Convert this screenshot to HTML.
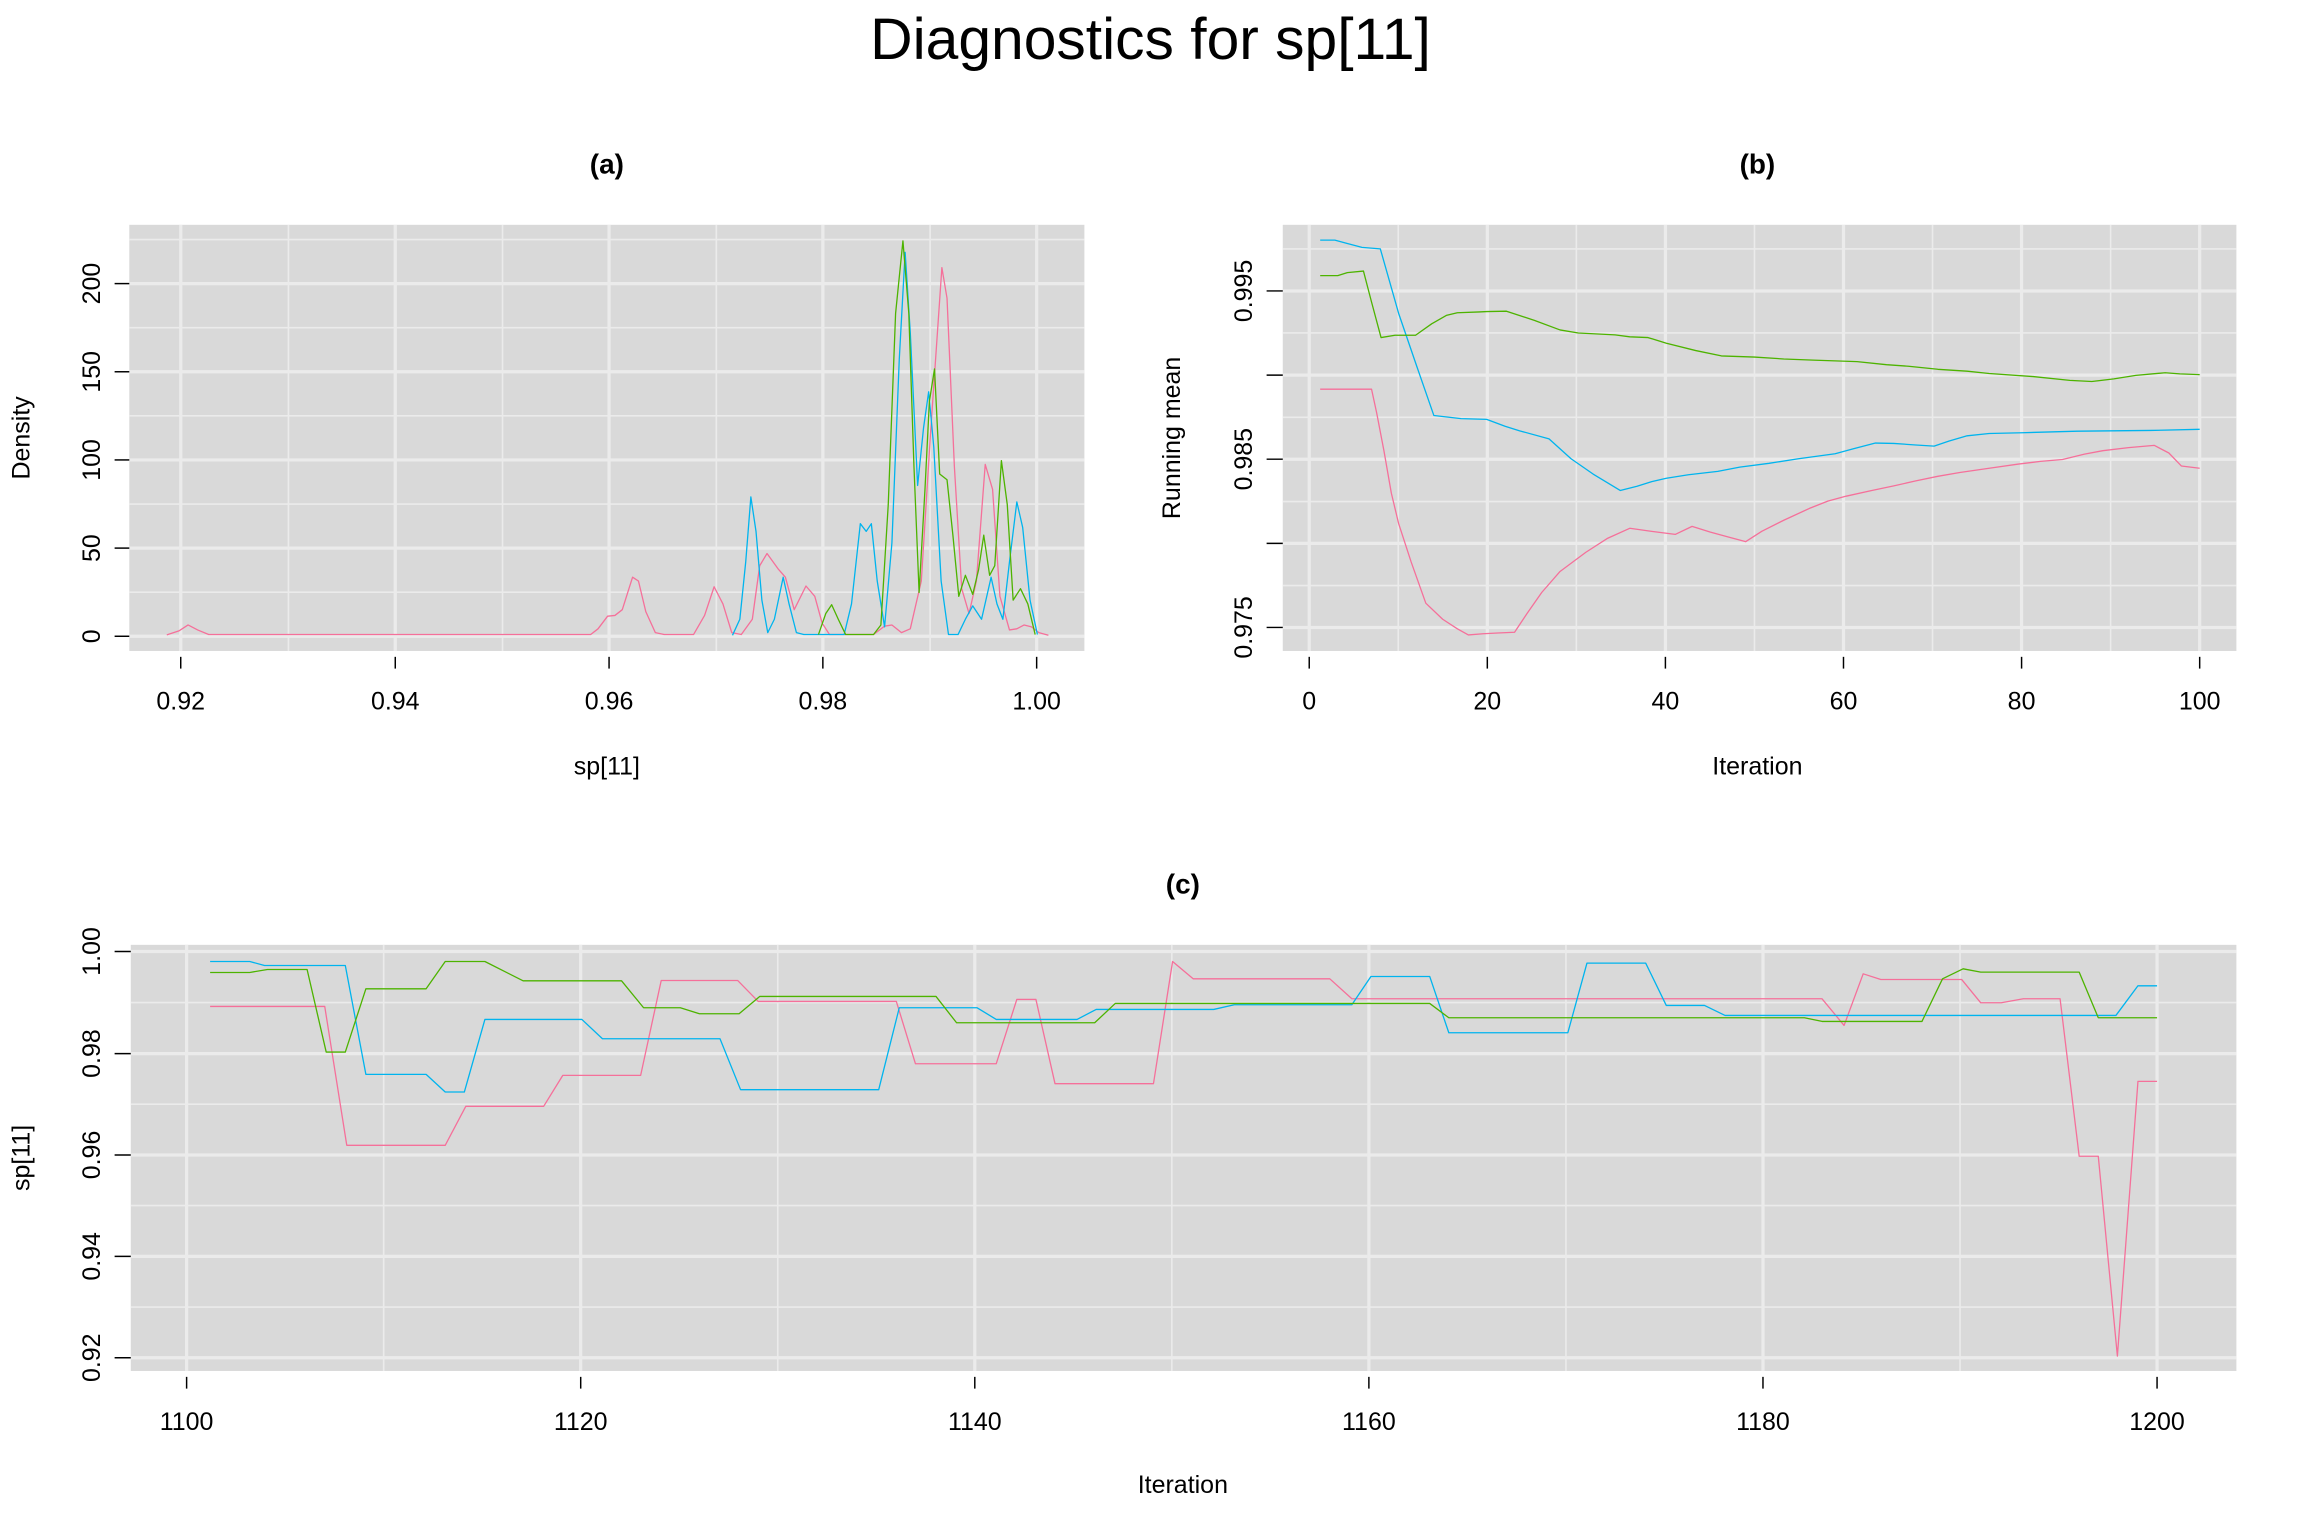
<!DOCTYPE html>
<html><head><meta charset="utf-8"><style>
html,body{margin:0;padding:0;background:#fff;}
svg{display:block;font-family:"Liberation Sans",Arial,sans-serif;}
.bg{fill:#d9d9d9;}
.gM{stroke:#ebebeb;stroke-width:2.2;}
.gm{stroke:#ebebeb;stroke-width:1.1;}
.tk{stroke:#000;stroke-width:1;}
.ln{fill:none;stroke-width:1.3;vector-effect:non-scaling-stroke;stroke-linejoin:round;}
.p{stroke:#F5709A;}.b{stroke:#00B4EE;}.g{stroke:#4DB300;}
.tl{font-size:17px;fill:#000;}
.tt{font-size:19px;font-weight:bold;fill:#000;}
</style></head><body>
<svg width="2304" height="1536" viewBox="0 0 1568 1045.3" preserveAspectRatio="none" xmlns="http://www.w3.org/2000/svg">
<text x="783" y="40" text-anchor="middle" font-size="40">Diagnostics for sp[11]</text>

<!-- Panel a -->
<rect class="bg" x="88" y="153" width="650" height="290"/>
<g>
<line class="gm" x1="88" x2="738" y1="403" y2="403"/><line class="gm" x1="88" x2="738" y1="343" y2="343"/><line class="gm" x1="88" x2="738" y1="283" y2="283"/><line class="gm" x1="88" x2="738" y1="223" y2="223"/><line class="gm" x1="88" x2="738" y1="163" y2="163"/>
<line class="gM" x1="88" x2="738" y1="433" y2="433"/><line class="gM" x1="88" x2="738" y1="373" y2="373"/><line class="gM" x1="88" x2="738" y1="313" y2="313"/><line class="gM" x1="88" x2="738" y1="253" y2="253"/><line class="gM" x1="88" x2="738" y1="193" y2="193"/>
<line class="gm" x1="196.3" x2="196.3" y1="153" y2="443"/><line class="gm" x1="342" x2="342" y1="153" y2="443"/><line class="gm" x1="487.5" x2="487.5" y1="153" y2="443"/><line class="gm" x1="633" x2="633" y1="153" y2="443"/>
<line class="gM" x1="123" x2="123" y1="153" y2="443"/><line class="gM" x1="269" x2="269" y1="153" y2="443"/><line class="gM" x1="414.5" x2="414.5" y1="153" y2="443"/><line class="gM" x1="560" x2="560" y1="153" y2="443"/><line class="gM" x1="705.5" x2="705.5" y1="153" y2="443"/>
</g>
<g transform="translate(-0.5,135.31) scale(0.5,0.2601)">
<polyline class="ln p" points="228,1141 245,1130 257,1115 270,1128 285,1140 805,1140 815,1125 828,1092 838,1090 848,1075 862,990 870,1000 880,1080 893,1135 905,1140 945,1140 960,1090 973,1015 985,1060 997,1135 1010,1140 1025,1100 1035,960 1045,928 1060,968 1070,990 1082,1075 1098,1013 1110,1040 1120,1110 1130,1140 1190,1140 1205,1118 1215,1115 1228,1135 1240,1125 1255,1000 1268,600 1283,180 1290,260 1300,700 1310,1020 1320,1085 1330,1000 1342,695 1352,760 1362,1040 1375,1128 1385,1125 1395,1115 1405,1120 1415,1135 1428,1142"/>
<polyline class="ln b" points="998,1142 1008,1100 1016,950 1023,780 1030,870 1038,1050 1046,1135 1055,1100 1067,990 1075,1060 1085,1135 1095,1140 1150,1140 1160,1060 1172,850 1180,870 1187,850 1195,1000 1205,1120 1215,900 1225,420 1233,140 1240,350 1250,750 1258,600 1265,505 1272,650 1282,1000 1292,1140 1305,1140 1315,1100 1325,1065 1337,1100 1350,990 1358,1060 1366,1100 1375,950 1385,793 1393,860 1403,1050 1413,1140"/>
<polyline class="ln g" points="1115,1140 1125,1085 1133,1062 1142,1100 1152,1140 1190,1140 1200,1115 1210,800 1220,300 1230,110 1238,300 1245,700 1252,1030 1260,760 1266,530 1273,445 1280,720 1290,735 1298,880 1306,1040 1315,985 1325,1035 1333,970 1340,880 1348,985 1355,960 1364,685 1372,800 1380,1050 1390,1020 1400,1060 1410,1140"/>
</g>
<g class="tk">
<line x1="123" x2="123" y1="447" y2="455"/><line x1="269" x2="269" y1="447" y2="455"/><line x1="414.5" x2="414.5" y1="447" y2="455"/><line x1="560" x2="560" y1="447" y2="455"/><line x1="705.5" x2="705.5" y1="447" y2="455"/>
<line x1="78" x2="88" y1="433" y2="433"/><line x1="78" x2="88" y1="373" y2="373"/><line x1="78" x2="88" y1="313" y2="313"/><line x1="78" x2="88" y1="253" y2="253"/><line x1="78" x2="88" y1="193" y2="193"/>
</g>
<g class="tl" text-anchor="middle">
<text x="123" y="483">0.92</text><text x="269" y="483">0.94</text><text x="414.5" y="483">0.96</text><text x="560" y="483">0.98</text><text x="705.5" y="483">1.00</text>
<text transform="translate(68,433) rotate(-90)">0</text><text transform="translate(68,373) rotate(-90)">50</text><text transform="translate(68,313) rotate(-90)">100</text><text transform="translate(68,253) rotate(-90)">150</text><text transform="translate(68,193) rotate(-90)">200</text>
<text x="413" y="527">sp[11]</text>
<text transform="translate(20,298) rotate(-90)">Density</text>
</g>
<text class="tt" x="413" y="118" text-anchor="middle">(a)</text>

<!-- Panel b -->
<rect class="bg" x="873" y="153" width="649" height="290"/>
<g>
<line class="gm" x1="873" x2="1522" y1="169.4" y2="169.4"/><line class="gm" x1="873" x2="1522" y1="226.6" y2="226.6"/><line class="gm" x1="873" x2="1522" y1="284" y2="284"/><line class="gm" x1="873" x2="1522" y1="341.3" y2="341.3"/><line class="gm" x1="873" x2="1522" y1="398.5" y2="398.5"/>
<line class="gM" x1="873" x2="1522" y1="198" y2="198"/><line class="gM" x1="873" x2="1522" y1="255.3" y2="255.3"/><line class="gM" x1="873" x2="1522" y1="312.5" y2="312.5"/><line class="gM" x1="873" x2="1522" y1="369.8" y2="369.8"/><line class="gM" x1="873" x2="1522" y1="427" y2="427"/>
<line class="gm" x1="951.6" x2="951.6" y1="153" y2="443"/><line class="gm" x1="1072.8" x2="1072.8" y1="153" y2="443"/><line class="gm" x1="1194" x2="1194" y1="153" y2="443"/><line class="gm" x1="1315.2" x2="1315.2" y1="153" y2="443"/><line class="gm" x1="1436.4" x2="1436.4" y1="153" y2="443"/>
<line class="gM" x1="891" x2="891" y1="153" y2="443"/><line class="gM" x1="1012.2" x2="1012.2" y1="153" y2="443"/><line class="gM" x1="1133.4" x2="1133.4" y1="153" y2="443"/><line class="gM" x1="1254.6" x2="1254.6" y1="153" y2="443"/><line class="gM" x1="1375.8" x2="1375.8" y1="153" y2="443"/><line class="gM" x1="1497" x2="1497" y1="153" y2="443"/>
</g>
<g transform="translate(784.64,135.31) scale(0.4992,0.2601)">
<polyline class="ln b" points="228,108 248,108 265,117 285,127 310,131 335,300 360,440 383,567 420,575 455,577 480,595 500,607 540,628 570,680 600,720 637,763 660,752 680,740 700,731 730,722 770,713 800,702 840,692 880,680 930,667 955,654 985,639 1010,640 1040,644 1065,647 1085,634 1110,620 1140,614 1185,612 1260,608 1360,606 1427,603"/>
<polyline class="ln g" points="228,201 252,201 265,193 287,189 298,270 311,363 330,357 358,357 380,327 400,305 415,298 445,296 455,295 482,294 520,318 555,343 580,351 630,356 650,361 675,363 700,378 740,397 775,411 820,414 860,419 900,422 930,424 960,426 1000,434 1030,438 1070,446 1110,451 1140,457 1200,465 1250,475 1280,478 1310,471 1340,462 1380,455 1400,458 1427,460"/>
<polyline class="ln p" points="228,498 298,498 305,560 315,660 325,770 335,850 352,950 372,1058 395,1100 415,1125 430,1141 450,1138 470,1136 493,1134 510,1085 530,1030 555,975 590,925 620,888 650,862 680,870 712,878 735,857 760,872 785,885 808,897 830,870 860,841 895,810 920,791 945,778 980,763 1010,751 1040,738 1070,726 1100,716 1140,705 1180,694 1210,687 1240,682 1270,668 1295,659 1330,651 1365,645 1385,665 1402,699 1427,705"/>
</g>
<g class="tk">
<line x1="891" x2="891" y1="447" y2="455"/><line x1="1012.2" x2="1012.2" y1="447" y2="455"/><line x1="1133.4" x2="1133.4" y1="447" y2="455"/><line x1="1254.6" x2="1254.6" y1="447" y2="455"/><line x1="1375.8" x2="1375.8" y1="447" y2="455"/><line x1="1497" x2="1497" y1="447" y2="455"/>
<line x1="862" x2="873" y1="198" y2="198"/><line x1="862" x2="873" y1="255.3" y2="255.3"/><line x1="862" x2="873" y1="312.5" y2="312.5"/><line x1="862" x2="873" y1="369.8" y2="369.8"/><line x1="862" x2="873" y1="427" y2="427"/>
</g>
<g class="tl" text-anchor="middle">
<text x="891" y="483">0</text><text x="1012.2" y="483">20</text><text x="1133.4" y="483">40</text><text x="1254.6" y="483">60</text><text x="1375.8" y="483">80</text><text x="1497" y="483">100</text>
<text transform="translate(852,198) rotate(-90)">0.995</text><text transform="translate(852,312.5) rotate(-90)">0.985</text><text transform="translate(852,427) rotate(-90)">0.975</text>
<text x="1196" y="527">Iteration</text>
<text transform="translate(803,298) rotate(-90)">Running mean</text>
</g>
<text class="tt" x="1196" y="118" text-anchor="middle">(b)</text>

<!-- Panel c -->
<rect class="bg" x="89" y="643" width="1433" height="290"/>
<g>
<line class="gm" x1="89" x2="1522" y1="682.3" y2="682.3"/><line class="gm" x1="89" x2="1522" y1="751.4" y2="751.4"/><line class="gm" x1="89" x2="1522" y1="820.4" y2="820.4"/><line class="gm" x1="89" x2="1522" y1="889.5" y2="889.5"/>
<line class="gM" x1="89" x2="1522" y1="647.5" y2="647.5"/><line class="gM" x1="89" x2="1522" y1="717" y2="717"/><line class="gM" x1="89" x2="1522" y1="786" y2="786"/><line class="gM" x1="89" x2="1522" y1="855" y2="855"/><line class="gM" x1="89" x2="1522" y1="924" y2="924"/>
<line class="gm" x1="261.1" x2="261.1" y1="643" y2="933"/><line class="gm" x1="529.3" x2="529.3" y1="643" y2="933"/><line class="gm" x1="797.5" x2="797.5" y1="643" y2="933"/><line class="gm" x1="1065.7" x2="1065.7" y1="643" y2="933"/><line class="gm" x1="1333.9" x2="1333.9" y1="643" y2="933"/>
<line class="gM" x1="127" x2="127" y1="643" y2="933"/><line class="gM" x1="395.2" x2="395.2" y1="643" y2="933"/><line class="gM" x1="663.4" x2="663.4" y1="643" y2="933"/><line class="gM" x1="931.6" x2="931.6" y1="643" y2="933"/><line class="gM" x1="1199.8" x2="1199.8" y1="643" y2="933"/><line class="gM" x1="1468" x2="1468" y1="643" y2="933"/>
</g>
<g transform="translate(0,632.12) scale(1,0.2266)">
<polyline class="ln p" points="143,233 221,233 236,650 303,650 317,533 370,533 383,440 436,440 450,155 502,155 516,218 610,218 623,405 678,405 692,212 705,212 718,465 785,465 798,98 812,150 905,150 920,210 1240,210 1255,290 1268,135 1280,152 1335,152 1348,222 1362,222 1377,210 1402,210 1415,683 1428,683 1441,1283 1455,458 1468,458"/>
<polyline class="ln b" points="143,98 170,98 180,110 235,110 249,437 290,437 303,490 316,490 330,272 396,272 410,330 490,330 504,483 598,483 612,237 665,237 678,272 733,272 746,242 826,242 840,228 920,228 933,143 973,143 986,312 1067,312 1080,103 1120,103 1134,230 1160,230 1174,260 1440,260 1455,171 1468,171"/>
<polyline class="ln g" points="143,131 170,131 182,122 209,122 222,370 235,370 249,180 290,180 303,98 330,98 356,156 423,156 438,237 463,237 476,255 503,255 517,203 637,203 651,282 745,282 759,224 973,224 986,267 1228,267 1240,278 1308,278 1322,150 1336,120 1348,130 1415,130 1428,267 1468,267"/>
</g>
<g class="tk">
<line x1="127" x2="127" y1="937" y2="945"/><line x1="395.2" x2="395.2" y1="937" y2="945"/><line x1="663.4" x2="663.4" y1="937" y2="945"/><line x1="931.6" x2="931.6" y1="937" y2="945"/><line x1="1199.8" x2="1199.8" y1="937" y2="945"/><line x1="1468" x2="1468" y1="937" y2="945"/>
<line x1="78" x2="89" y1="647.5" y2="647.5"/><line x1="78" x2="89" y1="717" y2="717"/><line x1="78" x2="89" y1="786" y2="786"/><line x1="78" x2="89" y1="855" y2="855"/><line x1="78" x2="89" y1="924" y2="924"/>
</g>
<g class="tl" text-anchor="middle">
<text x="127" y="973">1100</text><text x="395.2" y="973">1120</text><text x="663.4" y="973">1140</text><text x="931.6" y="973">1160</text><text x="1199.8" y="973">1180</text><text x="1468" y="973">1200</text>
<text transform="translate(68,647.5) rotate(-90)">1.00</text><text transform="translate(68,717) rotate(-90)">0.98</text><text transform="translate(68,786) rotate(-90)">0.96</text><text transform="translate(68,855) rotate(-90)">0.94</text><text transform="translate(68,924) rotate(-90)">0.92</text>
<text x="805" y="1016">Iteration</text>
<text transform="translate(20,788) rotate(-90)">sp[11]</text>
</g>
<text class="tt" x="805" y="608" text-anchor="middle">(c)</text>
</svg>
</body></html>
